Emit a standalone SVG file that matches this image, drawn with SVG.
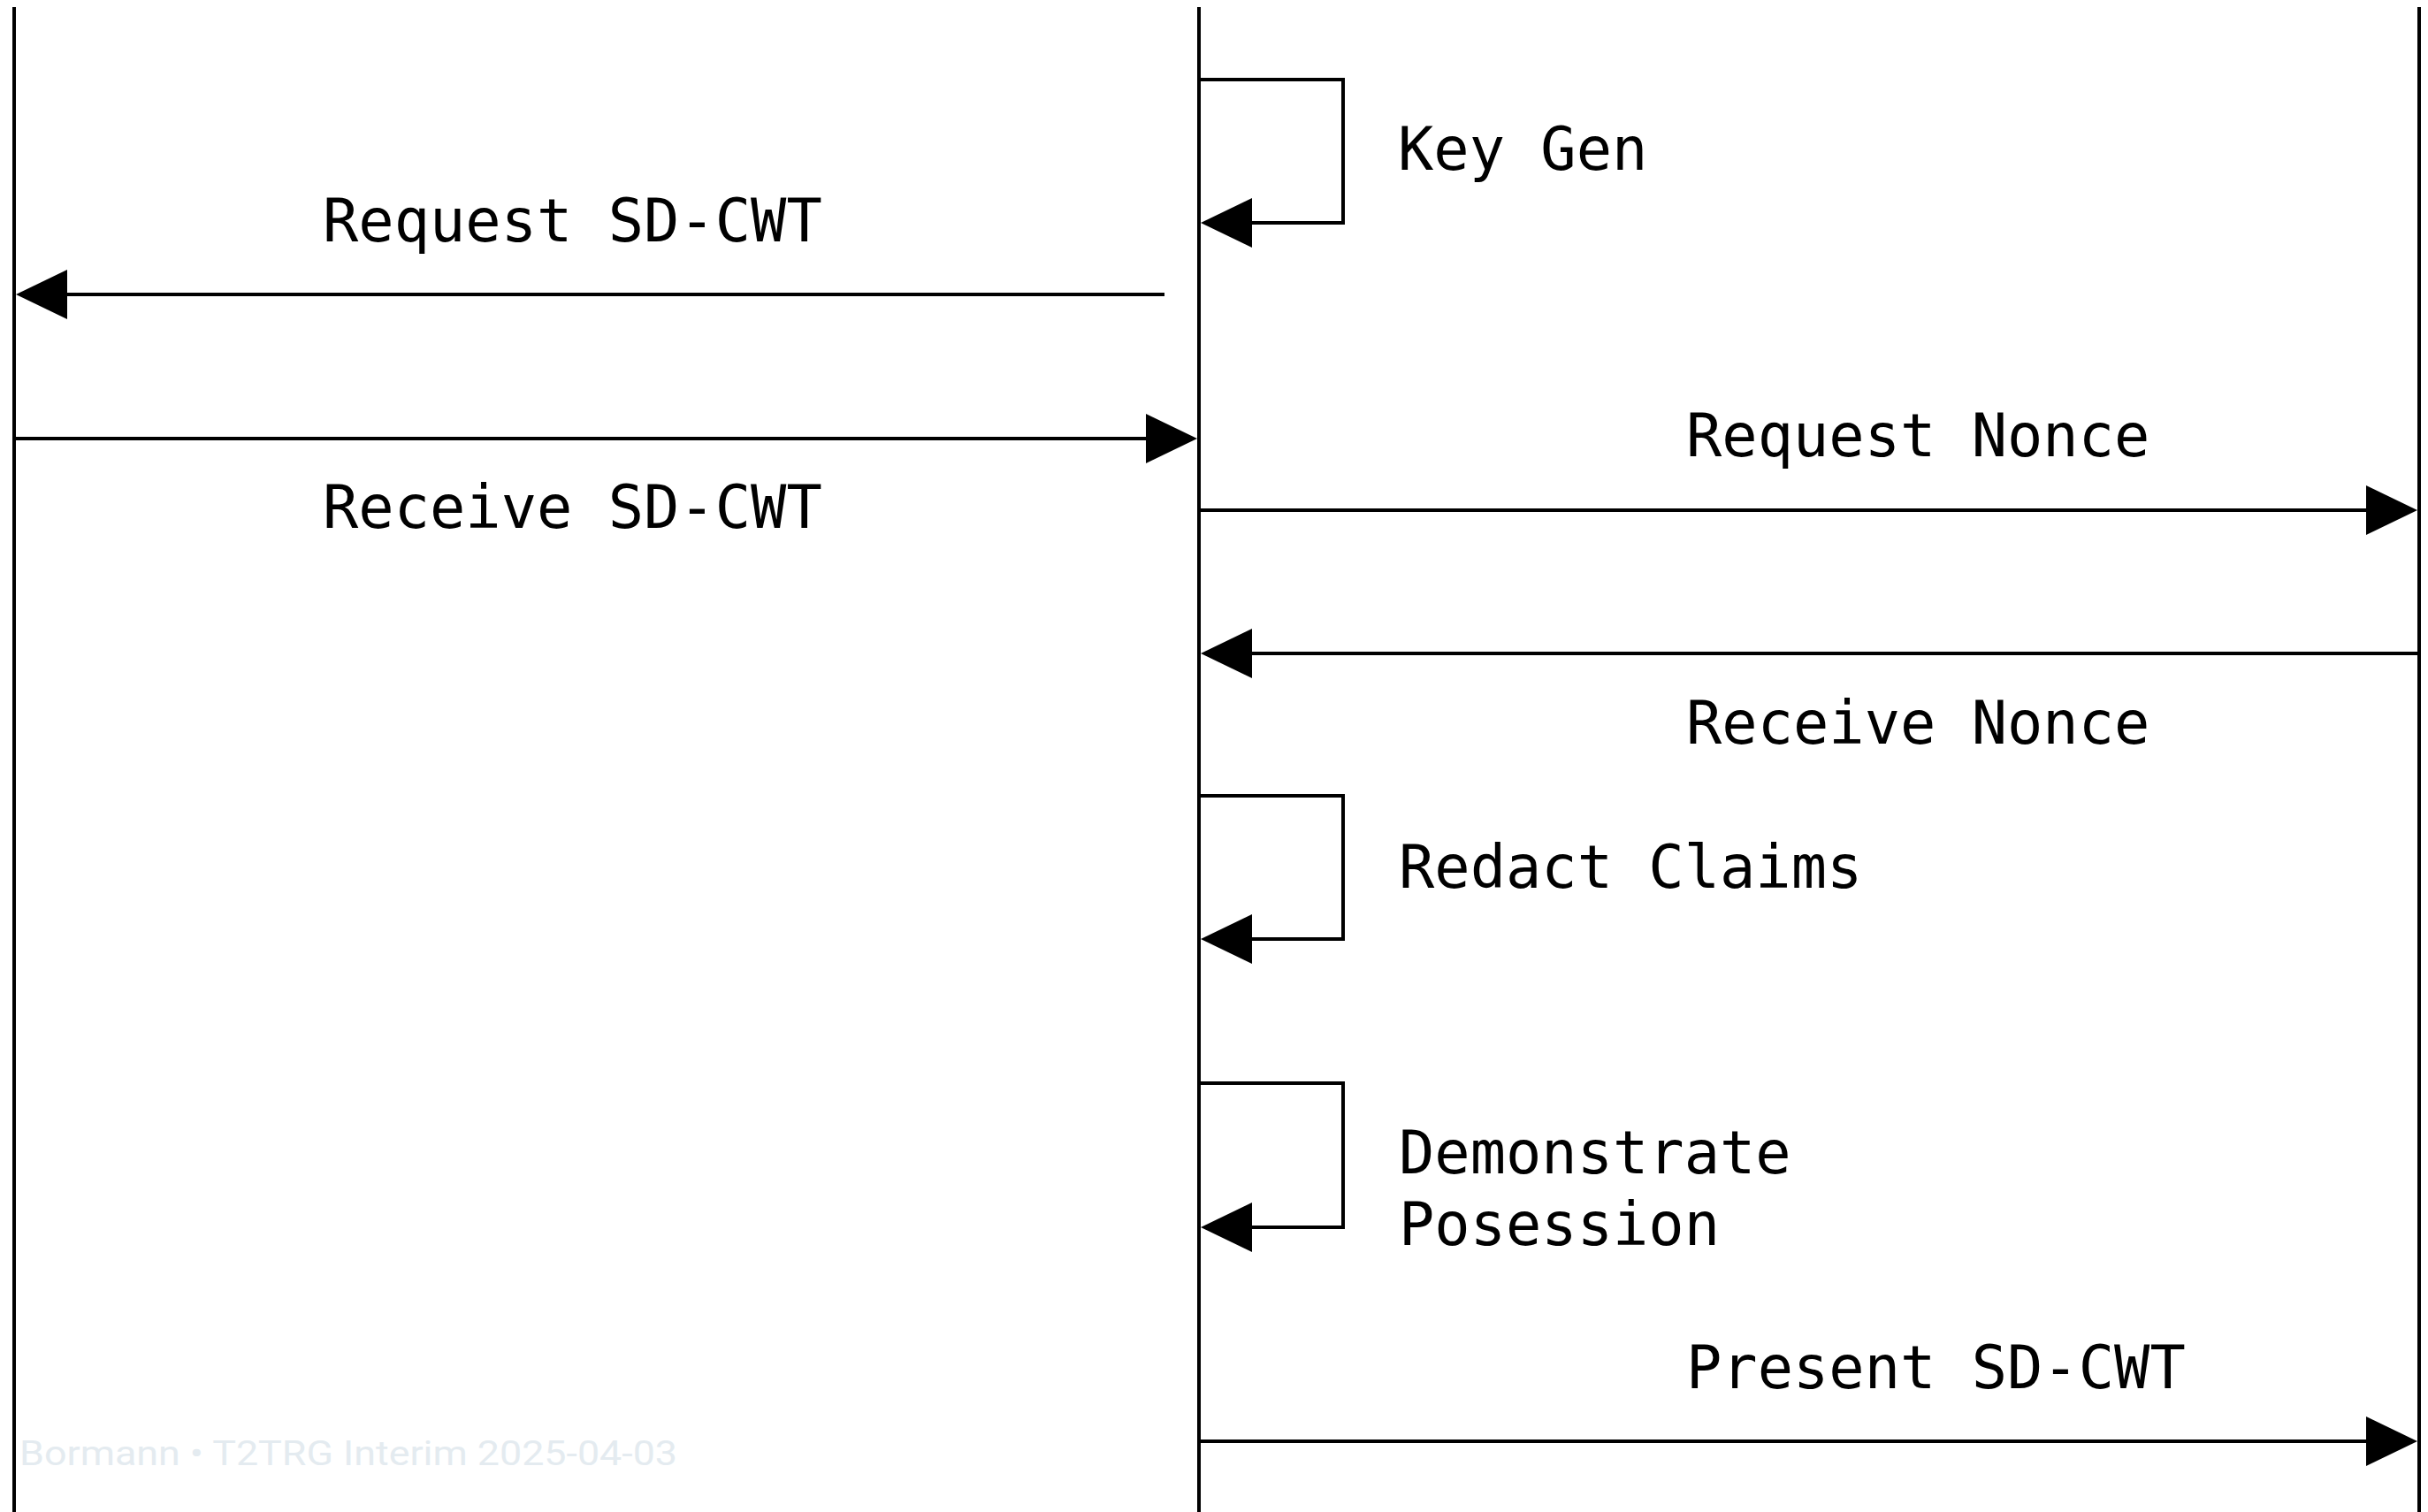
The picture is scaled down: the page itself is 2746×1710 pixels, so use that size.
<svg xmlns="http://www.w3.org/2000/svg" width="2746" height="1710" viewBox="0 0 2746 1710">
  <style>
    .life { stroke: #000; stroke-width: 4; fill: none; }
    .msg { stroke: #000; stroke-width: 4; fill: none; marker-end: url(#head); }
    .lbl { font-family: "DejaVu Sans Mono", "Liberation Mono", monospace; font-size: 67px; fill: #000; }
    .foot { font-family: Roboto, "Liberation Sans", sans-serif; font-size: 38px; fill: #e4ebf0; }
  </style>
  <defs>
    <!-- solid triangular head, base sits at the line end -->
    <marker id="head" markerUnits="userSpaceOnUse" markerWidth="58" markerHeight="56" refX="0" refY="28" orient="auto" overflow="visible">
      <path d="M0,0 L58,28 L0,56 Z" fill="#000"/>
    </marker>
  </defs>
  <rect width="2746" height="1710" fill="#fff"/>

  <!-- lifelines -->
  <g id="lifeline-left"><line class="life" x1="16" y1="8" x2="16" y2="1710"/></g>
  <g id="lifeline-middle"><line class="life" x1="1356" y1="8" x2="1356" y2="1710"/></g>
  <g id="lifeline-right"><line class="life" x1="2736" y1="8" x2="2736" y2="1710"/></g>

  <!-- messages and self-calls -->
  <g id="connectors">
    <path class="msg" d="M1356,90 H1519 V252 H1416"/>
    <line class="msg" x1="1317" y1="333" x2="76" y2="333"/>
    <line class="msg" x1="16" y1="496" x2="1296" y2="496"/>
    <line class="msg" x1="1356" y1="577" x2="2676" y2="577"/>
    <line class="msg" x1="2736" y1="739" x2="1416" y2="739"/>
    <path class="msg" d="M1356,900 H1519 V1062 H1416"/>
    <path class="msg" d="M1356,1225 H1519 V1388 H1416"/>
    <line class="msg" x1="1356" y1="1630" x2="2676" y2="1630"/>
  </g>

  <!-- labels -->
  <g id="label-keygen"><text class="lbl" x="1581" y="192" xml:space="preserve">Key Gen</text></g>
  <g id="label-request-sdcwt"><text class="lbl" x="365" y="273" xml:space="preserve">Request SD-CWT</text></g>
  <g id="label-receive-sdcwt"><text class="lbl" x="365" y="597" xml:space="preserve">Receive SD-CWT</text></g>
  <g id="label-request-nonce"><text class="lbl" x="1907" y="516" xml:space="preserve">Request Nonce</text></g>
  <g id="label-receive-nonce"><text class="lbl" x="1907" y="841" xml:space="preserve">Receive Nonce</text></g>
  <g id="label-redact"><text class="lbl" x="1582" y="1004" xml:space="preserve">Redact Claims</text></g>
  <g id="label-demonstrate">
    <text class="lbl" x="1582" y="1327">Demonstrate</text>
    <text class="lbl" x="1582" y="1408">Posession</text>
  </g>
  <g id="label-present"><text class="lbl" x="1907" y="1570" xml:space="preserve">Present SD-CWT</text></g>

  <!-- footer -->
  <text class="foot" x="22" y="1657" textLength="744" lengthAdjust="spacingAndGlyphs">Bormann • T2TRG Interim 2025-04-03</text>
</svg>
